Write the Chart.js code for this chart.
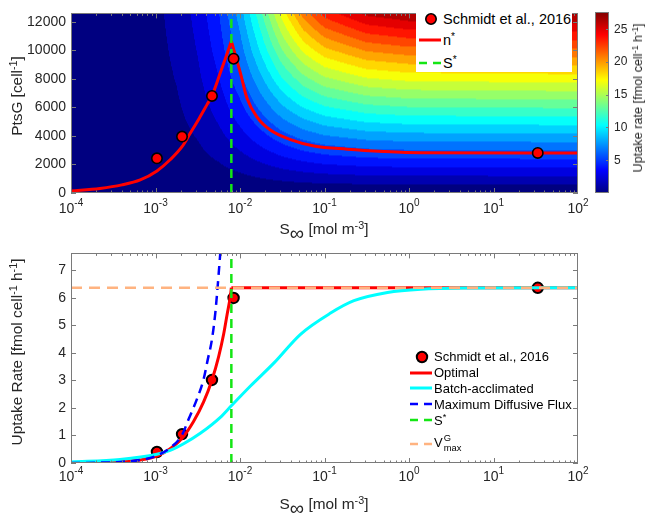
<!DOCTYPE html>
<html>
<head>
<meta charset="utf-8">
<title>PtsG and glucose uptake</title>
<script src="https://cdn.jsdelivr.net/npm/chart.js@4.4.1/dist/chart.umd.min.js"></script>
<style>
  body { margin: 0; background: #fff; }
  #fig { position: relative; width: 650px; height: 520px; overflow: hidden;
         font-family: "Liberation Sans", Arial, Helvetica, sans-serif; color: #262626; }
  #fig canvas { position: absolute; left: 0; }
  .title { position: absolute; white-space: nowrap; font-size: 15.4px; transform: translate(-50%, -50%); }
  .title.rot { transform: translate(-50%, -50%) rotate(-90deg); }
  sup { font-size: 0.7em; line-height: 0; vertical-align: 0.5em; }
  sub { font-size: 0.7em; line-height: 0; }
  sub.inf { font-size: 1.3em; vertical-align: -0.3em; }
  .legend { position: absolute; color: #000; }
  .legend .row { position: absolute; left: 0; height: 16px; display: flex; align-items: center; white-space: nowrap; }
  .legend svg { flex: none; margin-right: 2px; }
  .ss { display: inline-flex; flex-direction: column; font-size: 0.72em; line-height: 1.05; vertical-align: middle; margin-left: 1px; }
</style>
</head>
<body>
<div id="fig">
  <canvas id="top" width="650" height="240" style="top:0"></canvas>
  <canvas id="cbar" width="650" height="240" style="top:0"></canvas>
  <canvas id="bottom" width="650" height="280" style="top:240px"></canvas>

  <div class="title rot" style="left:17px;top:96px">PtsG [cell<sup>-1</sup>]</div>
  <div class="title" style="left:324px;top:229px">S<sub class="inf">∞</sub> [mol m<sup>-3</sup>]</div>
  <div class="title rot" style="left:638px;top:98px;font-size:12.7px">Uptake rate [fmol cell<sup>-1</sup> h<sup>-1</sup>]</div>
  <div class="title rot" style="left:17px;top:352px">Uptake Rate [fmol cell<sup>-1</sup> h<sup>-1</sup>]</div>
  <div class="title" style="left:324px;top:504px">S<sub class="inf">∞</sub> [mol m<sup>-3</sup>]</div>

  <div class="legend" style="left:416px;top:7px;width:156px;height:65px;background:#fff;font-size:14.5px">
    <div class="row" style="left:3px;top:4px"><svg width="22" height="16"><circle cx="12" cy="8" r="5.2" fill="#ff0000" stroke="#000" stroke-width="1.6"/></svg><span>Schmidt et al., 2016</span></div>
    <div class="row" style="left:3px;top:24.5px"><svg width="22" height="16"><line x1="0" y1="8" x2="22" y2="8" stroke="#ff0000" stroke-width="3"/></svg><span>n<sup>*</sup></span></div>
    <div class="row" style="left:3px;top:47.7px"><svg width="22" height="16"><line x1="0" y1="8" x2="22" y2="8" stroke="#14e614" stroke-width="2.5" stroke-dasharray="8 6"/></svg><span>S<sup>*</sup></span></div>
  </div>

  <div class="legend" style="left:410px;top:340px;font-size:13px">
    <div class="row" style="top:8.7px"><svg width="22" height="16"><circle cx="12" cy="8" r="5.2" fill="#ff0000" stroke="#000" stroke-width="2"/></svg><span>Schmidt et al., 2016</span></div>
    <div class="row" style="top:24.7px"><svg width="22" height="16"><line x1="0" y1="8" x2="22" y2="8" stroke="#ff0000" stroke-width="3"/></svg><span>Optimal</span></div>
    <div class="row" style="top:40.3px"><svg width="22" height="16"><line x1="0" y1="8" x2="22" y2="8" stroke="#00ffff" stroke-width="3"/></svg><span>Batch-acclimated</span></div>
    <div class="row" style="top:56px"><svg width="22" height="16"><line x1="0" y1="8" x2="22" y2="8" stroke="#0000ff" stroke-width="2.5" stroke-dasharray="8 6"/></svg><span>Maximum Diffusive Flux</span></div>
    <div class="row" style="top:72px"><svg width="22" height="16"><line x1="0" y1="8" x2="22" y2="8" stroke="#14e614" stroke-width="2.5" stroke-dasharray="8 6"/></svg><span>S<sup>*</sup></span></div>
    <div class="row" style="top:96px"><svg width="22" height="16"><line x1="0" y1="8" x2="22" y2="8" stroke="#ffb380" stroke-width="2.5" stroke-dasharray="8 6"/></svg><span>V<span class="ss"><span>G</span><span>max</span></span></span></div>
  </div>
</div>

<script>
// measured points (Schmidt et al., 2016): S in mol m^-3
const dataS = [1.04e-3, 2.06e-3, 4.66e-3, 8.4e-3, 33.4];
const dataPtsG = [2430, 3960, 6810, 9420, 2810];
const dataUptake = [0.40, 1.05, 3.02, 6.0, 6.37];

const sStar = 7.9e-3;
const vMaxG = 6.37;

// n* curve, left and right of S*
const nStarLeftS = [1e-4, 2.2e-4, 4e-4, 6.6e-4, 1.04e-3, 1.5e-3, 2.06e-3, 2.58e-3, 3.3e-3, 4.07e-3, 4.66e-3, 5.85e-3, 7.03e-3, 7.9e-3];
const nStarLeftN = [135, 320, 570, 920, 1550, 2350, 3250, 4200, 5250, 6200, 6810, 8430, 9770, 10660];
const nStarRightS = [7.9e-3, 1.01e-2, 1.21e-2, 1.6e-2, 2.29e-2, 3.96e-2, 7.5e-2, 0.186, 0.5, 1.38, 100];
const nStarRightN = [10660, 8430, 6650, 5310, 4415, 3745, 3300, 3077, 2920, 2830, 2810];

// bottom panel curves
const optimalS = [1e-4, 2e-4, 3.8e-4, 6.6e-4, 1.04e-3, 1.49e-3, 2.06e-3, 2.82e-3, 3.71e-3, 4.66e-3, 5.58e-3, 6.4e-3, 7.03e-3, 7.68e-3, 7.9e-3];
const optimalV = [0.01, 0.02, 0.05, 0.11, 0.25, 0.52, 0.90, 1.51, 2.22, 3.02, 3.86, 4.68, 5.39, 6.05, 6.37];
const batchS = [1e-4, 3.8e-4, 1.04e-3, 1.49e-3, 2.15e-3, 3.39e-3, 5.85e-3, 8.0e-3, 1.33e-2, 2.51e-2, 5.2e-2, 0.118, 0.223, 0.556, 1.38, 5, 100];
const batchV = [0.04, 0.13, 0.32, 0.46, 0.70, 1.08, 1.66, 2.1, 2.8, 3.63, 4.68, 5.45, 5.9, 6.2, 6.32, 6.36, 6.37];
const diffS = [1e-4, 2e-4, 3.8e-4, 6.6e-4, 1.04e-3, 1.49e-3, 2.06e-3, 2.47e-3, 3.1e-3, 3.71e-3, 4.14e-3, 4.66e-3, 5.1e-3, 5.35e-3, 5.6e-3, 5.85e-3];
const diffV = [0.0, 0.01, 0.04, 0.11, 0.27, 0.55, 1.02, 1.6, 2.33, 3.05, 3.74, 4.5, 5.45, 6.15, 6.9, 7.65];

// uptake-rate field behind the top panel (rows: PtsG, columns: log10 S)
const gridLogS = [-4, -3.5, -3, -2.75, -2.5, -2.25, -2, -1.75, -1.5, -1.25, -1, -0.5, 0, 2];
const gridPtsG = [0, 1000, 2000, 3000, 4000, 5000, 6000, 8000, 10000, 13000];
const gridUptake = [
  [0, 0, 0, 0, 0, 0, 0, 0, 0, 0, 0, 0, 0, 0],
  [0.02, 0.05, 0.15, 0.25, 0.41, 0.64, 0.93, 1.25, 1.55, 1.78, 1.94, 2.11, 2.17, 2.2],
  [0.03, 0.09, 0.27, 0.47, 0.77, 1.22, 1.81, 2.46, 3.07, 3.55, 3.89, 4.22, 4.34, 4.4],
  [0.04, 0.13, 0.39, 0.66, 1.10, 1.76, 2.64, 3.64, 4.57, 5.31, 5.82, 6.34, 6.52, 6.6],
  [0.05, 0.16, 0.48, 0.83, 1.40, 2.26, 3.43, 4.77, 6.05, 7.06, 7.75, 8.45, 8.69, 8.8],
  [0.06, 0.19, 0.57, 0.99, 1.67, 2.72, 4.16, 5.86, 7.50, 8.79, 9.68, 10.56, 10.86, 11.0],
  [0.07, 0.21, 0.65, 1.13, 1.91, 3.14, 4.86, 6.92, 8.93, 10.52, 11.60, 12.66, 13.03, 13.2],
  [0.08, 0.25, 0.79, 1.37, 2.34, 3.88, 6.12, 8.91, 11.70, 13.92, 15.43, 16.88, 17.37, 17.6],
  [0.09, 0.29, 0.90, 1.57, 2.69, 4.52, 7.24, 10.74, 14.36, 17.28, 19.23, 21.08, 21.71, 22.0],
  [0.10, 0.33, 1.03, 1.80, 3.13, 5.31, 8.68, 13.22, 18.14, 22.20, 24.90, 27.38, 28.22, 28.6]
];
const contourStep = 1.31;
const cLim = [0, 27.6];

// axis ticks
const sTicks = [1e-4, 1e-3, 1e-2, 1e-1, 1, 10, 100];
const ptsgTicks = [0, 2000, 4000, 6000, 8000, 10000, 12000];
const uptakeTicks = [0, 1, 2, 3, 4, 5, 6, 7];
const cbarTicks = [5, 10, 15, 20, 25];

const FONT = '"Liberation Sans", Arial, Helvetica, sans-serif';
Chart.defaults.font.family = FONT;
Chart.defaults.color = '#262626';

const pts = (xs, ys) => xs.map((x, i) => ({ x: x, y: ys[i] }));

function jet(t) {
  t = Math.min(1, Math.max(0, t));
  const f = v => Math.round(255 * Math.min(1, Math.max(0, v)));
  return [f(1.5 - Math.abs(4 * t - 3)), f(1.5 - Math.abs(4 * t - 2)), f(1.5 - Math.abs(4 * t - 1))];
}

function uptakeAt(ls, n) {
  let i = 0;
  while (i < gridLogS.length - 2 && ls > gridLogS[i + 1]) i++;
  let j = 0;
  while (j < gridPtsG.length - 2 && n > gridPtsG[j + 1]) j++;
  const tx = (ls - gridLogS[i]) / (gridLogS[i + 1] - gridLogS[i]);
  const ty = (n - gridPtsG[j]) / (gridPtsG[j + 1] - gridPtsG[j]);
  const g = gridUptake;
  const lo = g[j][i] * (1 - tx) + g[j][i + 1] * tx;
  const hi = g[j + 1][i] * (1 - tx) + g[j + 1][i + 1] * tx;
  return lo * (1 - ty) + hi * ty;
}

// filled contour drawn under the datasets of the top panel
const contourPlugin = {
  id: 'contour',
  beforeDatasetsDraw(chart) {
    const { ctx, chartArea: a, scales: { x, y } } = chart;
    const w = Math.round(a.right - a.left), h = Math.round(a.bottom - a.top);
    const off = document.createElement('canvas');
    off.width = w; off.height = h;
    const octx = off.getContext('2d');
    const img = octx.createImageData(w, h);
    for (let i = 0; i < w; i++) {
      const ls = Math.log10(x.getValueForPixel(a.left + i + 0.5));
      for (let j = 0; j < h; j++) {
        const n = y.getValueForPixel(a.top + j + 0.5);
        const lev = Math.floor(uptakeAt(ls, n) / contourStep) * contourStep;
        const c = jet((lev - cLim[0]) / (cLim[1] - cLim[0]));
        const k = (j * w + i) * 4;
        img.data[k] = c[0]; img.data[k + 1] = c[1]; img.data[k + 2] = c[2]; img.data[k + 3] = 255;
      }
    }
    octx.putImageData(img, 0, 0);
    ctx.drawImage(off, a.left, a.top);
  }
};

// box, inward ticks and 10^n labels, MATLAB style
const framePlugin = {
  id: 'frame',
  afterDatasetsDraw(chart, args, o) {
    const { ctx, chartArea: a, scales: { x, y } } = chart;
    ctx.save();
    ctx.strokeStyle = '#7a7a7a';
    ctx.lineWidth = 1;
    ctx.beginPath();
    for (let e = -4; e < 2; e++) {
      for (let m = 1; m <= 9; m++) {
        const px = Math.round(x.getPixelForValue(m * Math.pow(10, e))) + 0.5;
        const len = m === 1 ? 5 : 2.5;
        ctx.moveTo(px, a.bottom); ctx.lineTo(px, a.bottom - len);
        ctx.moveTo(px, a.top); ctx.lineTo(px, a.top + len);
      }
    }
    o.yTicks.forEach(v => {
      const py = Math.round(y.getPixelForValue(v)) + 0.5;
      ctx.moveTo(a.left, py); ctx.lineTo(a.left + 5, py);
      ctx.moveTo(a.right, py); ctx.lineTo(a.right - 5, py);
    });
    ctx.stroke();
    ctx.strokeRect(Math.round(a.left) + 0.5, Math.round(a.top) + 0.5, Math.round(a.width) - 1, Math.round(a.height) - 1);

    ctx.fillStyle = '#262626';
    ctx.textBaseline = 'alphabetic';
    ctx.textAlign = 'left';
    const base = a.bottom + o.labelDy;
    sTicks.forEach(v => {
      const px = x.getPixelForValue(v);
      const ex = String(Math.round(Math.log10(v)));
      ctx.font = '14px ' + FONT;
      const w1 = ctx.measureText('10').width;
      ctx.font = '10px ' + FONT;
      const w2 = ctx.measureText(ex).width;
      const left = px - (w1 + w2) / 2;
      ctx.font = '14px ' + FONT;
      ctx.fillText('10', left, base);
      ctx.font = '10px ' + FONT;
      ctx.fillText(ex, left + w1, base - 7);
    });
    ctx.restore();
  }
};

function logX(height) {
  return {
    type: 'logarithmic', min: 1e-4, max: 100,
    afterFit: s => { s.height = height; },
    ticks: { display: false },
    grid: { display: false, drawTicks: false },
    border: { display: false }
  };
}

function linY(min, max, ticks) {
  return {
    type: 'linear', min: min, max: max,
    afterBuildTicks: s => { s.ticks = ticks.map(v => ({ value: v })); },
    afterFit: s => { s.width = 71; },
    grid: { display: false, drawTicks: false },
    border: { display: false },
    ticks: { font: { size: 14 }, color: '#262626', padding: 5, callback: v => String(v) }
  };
}

const common = {
  responsive: false,
  animation: false,
  devicePixelRatio: 1,
  events: []
};

// top panel: PtsG vs S
new Chart(document.getElementById('top'), {
  type: 'scatter',
  data: {
    datasets: [
      {
        label: 'Schmidt et al., 2016', data: pts(dataS, dataPtsG), order: 0,
        pointRadius: 5.2, pointBackgroundColor: '#ff0000', pointBorderColor: '#000', pointBorderWidth: 1.6
      },
      {
        label: 'S*', data: [{ x: sStar, y: 0 }, { x: sStar, y: 12600 }], order: 1, showLine: true,
        borderColor: '#14e614', borderWidth: 2.5, borderDash: [9, 6], pointRadius: 0
      },
      {
        label: 'n*', data: pts(nStarLeftS, nStarLeftN), order: 2, showLine: true,
        borderColor: '#ff0000', borderWidth: 3, pointRadius: 0, cubicInterpolationMode: 'monotone'
      },
      {
        label: 'n*', data: pts(nStarRightS, nStarRightN), order: 2, showLine: true,
        borderColor: '#ff0000', borderWidth: 3, pointRadius: 0, cubicInterpolationMode: 'monotone'
      }
    ]
  },
  options: Object.assign({}, common, {
    layout: { padding: { left: 0, right: 72, top: 4, bottom: 0 } },
    plugins: { legend: { display: false }, tooltip: { enabled: false }, frame: { yTicks: ptsgTicks, labelDy: 20 } },
    scales: { x: logX(47), y: linY(0, 12600, ptsgTicks) }
  }),
  plugins: [contourPlugin, framePlugin]
});

// colour bar
new Chart(document.getElementById('cbar'), {
  type: 'bar',
  data: {
    labels: [''],
    datasets: [{
      data: [cLim],
      borderWidth: 0, barPercentage: 1, categoryPercentage: 1,
      backgroundColor: c => {
        const ch = c.chart;
        if (!ch.chartArea) return '#0000ff';
        const y = ch.scales.y;
        const g = ch.ctx.createLinearGradient(0, y.getPixelForValue(cLim[0]), 0, y.getPixelForValue(cLim[1]));
        [[0, '#000080'], [0.125, '#0000ff'], [0.375, '#00ffff'], [0.625, '#ffff00'], [0.875, '#ff0000'], [1, '#800000']]
          .forEach(s => g.addColorStop(s[0], s[1]));
        return g;
      }
    }]
  },
  options: Object.assign({}, common, {
    layout: { padding: { left: 595, right: 0, top: 4, bottom: 47 } },
    plugins: { legend: { display: false }, tooltip: { enabled: false } },
    scales: {
      x: { display: false },
      y: {
        position: 'right', min: cLim[0], max: cLim[1],
        afterBuildTicks: s => { s.ticks = cbarTicks.map(v => ({ value: v })); },
        afterFit: s => { s.width = 41; },
        grid: { display: false, drawTicks: false },
        border: { display: false },
        ticks: { font: { size: 12 }, color: '#262626', padding: 5 }
      }
    }
  }),
  plugins: [{
    id: 'cbarFrame',
    afterDatasetsDraw(chart) {
      const { ctx, chartArea: a, scales: { y } } = chart;
      ctx.save();
      ctx.strokeStyle = '#7a7a7a';
      ctx.lineWidth = 1;
      ctx.beginPath();
      cbarTicks.forEach(v => {
        const py = Math.round(y.getPixelForValue(v)) + 0.5;
        ctx.moveTo(a.right, py); ctx.lineTo(a.right - 3, py);
      });
      ctx.stroke();
      ctx.strokeRect(Math.round(a.left) + 0.5, Math.round(a.top) + 0.5, Math.round(a.width) - 1, Math.round(a.height) - 1);
      ctx.restore();
    }
  }]
});

// bottom panel: uptake rate vs S
new Chart(document.getElementById('bottom'), {
  type: 'scatter',
  data: {
    datasets: [
      {
        label: 'V max G', data: [{ x: 1e-4, y: vMaxG }, { x: 100, y: vMaxG }], order: 0, showLine: true,
        borderColor: '#ffb380', borderWidth: 2.5, borderDash: [11, 7], pointRadius: 0
      },
      {
        label: 'S*', data: [{ x: sStar, y: 0 }, { x: sStar, y: 7.62 }], order: 1, showLine: true,
        borderColor: '#14e614', borderWidth: 2.5, borderDash: [9, 6], pointRadius: 0
      },
      {
        label: 'Maximum Diffusive Flux', data: pts(diffS, diffV), order: 2, showLine: true,
        borderColor: '#0000ff', borderWidth: 2.5, borderDash: [9, 6], pointRadius: 0, cubicInterpolationMode: 'monotone'
      },
      {
        label: 'Batch-acclimated', data: pts(batchS, batchV), order: 3, showLine: true,
        borderColor: '#00ffff', borderWidth: 3, pointRadius: 0, cubicInterpolationMode: 'monotone'
      },
      {
        label: 'Optimal', data: pts(optimalS, optimalV), order: 4, showLine: true,
        borderColor: '#ff0000', borderWidth: 3, pointRadius: 0, cubicInterpolationMode: 'monotone'
      },
      {
        label: 'Optimal', data: [{ x: sStar, y: vMaxG }, { x: 100, y: vMaxG }], order: 4, showLine: true,
        borderColor: '#ff0000', borderWidth: 3, pointRadius: 0
      },
      {
        label: 'Schmidt et al., 2016', data: pts(dataS, dataUptake), order: 5,
        pointRadius: 5.2, pointBackgroundColor: '#ff0000', pointBorderColor: '#000', pointBorderWidth: 2
      }
    ]
  },
  options: Object.assign({}, common, {
    layout: { padding: { left: 0, right: 72, top: 7, bottom: 0 } },
    plugins: { legend: { display: false }, tooltip: { enabled: false }, frame: { yTicks: uptakeTicks, labelDy: 18 } },
    scales: { x: logX(57), y: linY(0, 7.62, uptakeTicks) }
  }),
  plugins: [framePlugin]
});
</script>
</body>
</html>
